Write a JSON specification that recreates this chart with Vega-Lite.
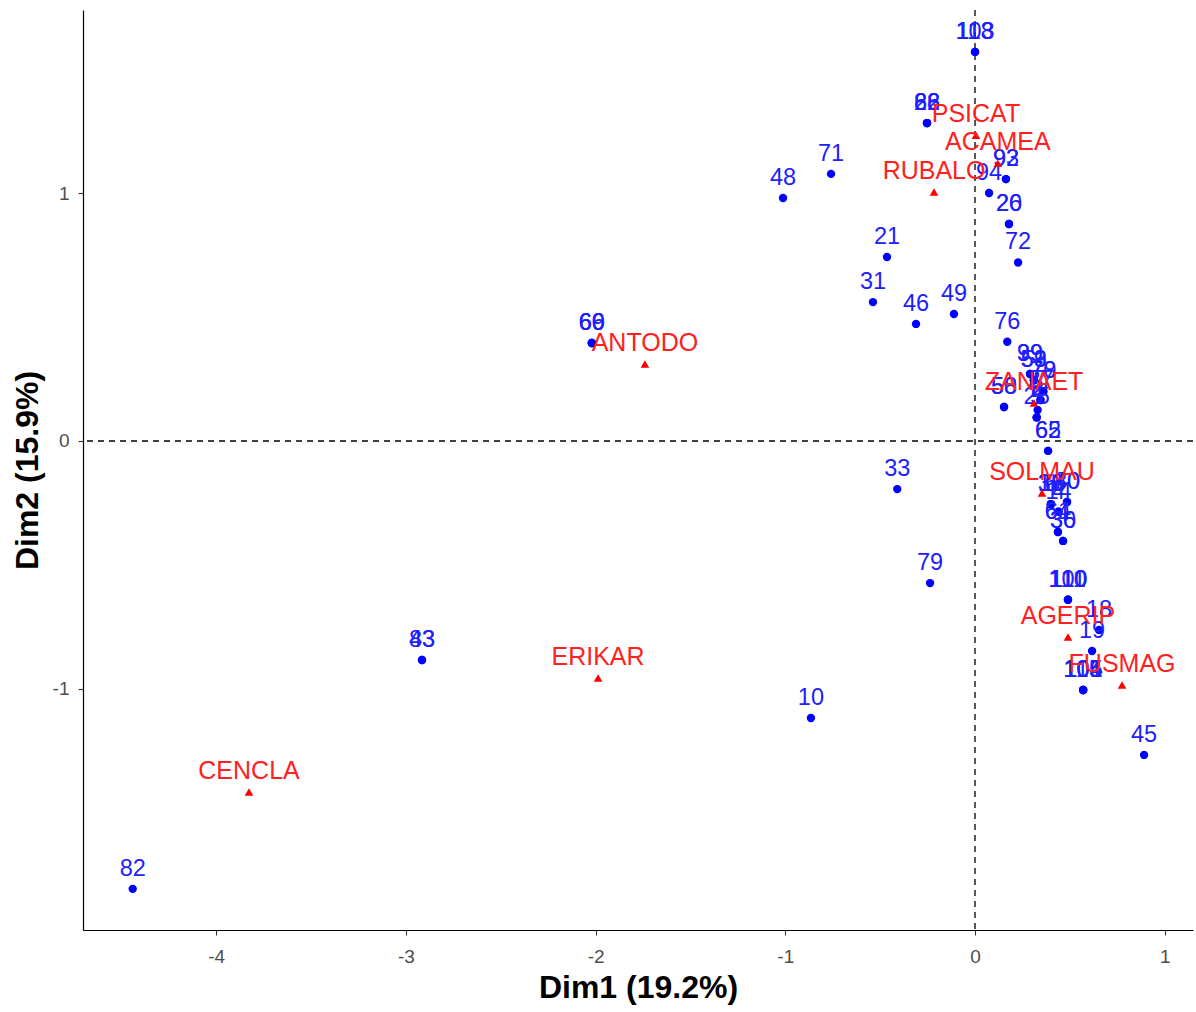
{
  "$schema": "https://vega.github.io/schema/vega-lite/v6.json",
  "width": 1110,
  "height": 920,
  "autosize": {"type": "none"},
  "padding": {"left": 83, "top": 10, "right": 3, "bottom": 82},
  "background": "white",
  "config": {
    "view": {"stroke": null},
    "axis": {
      "grid": false,
      "domainColor": "black",
      "domainWidth": 1.2,
      "tickColor": "#333333",
      "tickSize": 5,
      "tickWidth": 1.1,
      "labelFont": "Liberation Sans",
      "labelFontSize": 19,
      "labelColor": "#4D4D4D",
      "titleFont": "Liberation Sans",
      "titleFontSize": 32,
      "titleFontWeight": "bold",
      "titleColor": "black",
      "labelExpr": "'' + datum.value"
    },
    "axisX": {"labelPadding": 12, "titlePadding": 6},
    "axisY": {"labelPadding": 9, "titlePadding": 8}
  },
  "datasets": {
    "ref": [{"x": 0, "y": 0}],
    "rows": [
      {"x": 0.0, "y": 1.569, "label": "103"},
      {"x": 0.0, "y": 1.569, "label": "113"},
      {"x": 0.0, "y": 1.569, "label": "118"},
      {"x": -0.253, "y": 1.282, "label": "22"},
      {"x": -0.253, "y": 1.282, "label": "88"},
      {"x": -0.253, "y": 1.282, "label": "66"},
      {"x": -0.759, "y": 1.077, "label": "71"},
      {"x": -1.012, "y": 0.98, "label": "48"},
      {"x": -0.464, "y": 0.742, "label": "21"},
      {"x": -0.538, "y": 0.56, "label": "31"},
      {"x": -0.311, "y": 0.472, "label": "46"},
      {"x": -0.111, "y": 0.512, "label": "49"},
      {"x": 0.074, "y": 1.0, "label": "94"},
      {"x": 0.163, "y": 1.056, "label": "92"},
      {"x": 0.163, "y": 1.056, "label": "93"},
      {"x": 0.179, "y": 0.875, "label": "20"},
      {"x": 0.179, "y": 0.875, "label": "26"},
      {"x": 0.227, "y": 0.72, "label": "72"},
      {"x": 0.17, "y": 0.4, "label": "76"},
      {"x": -2.02, "y": 0.395, "label": "60"},
      {"x": -2.02, "y": 0.395, "label": "66"},
      {"x": -2.02, "y": 0.395, "label": "69"},
      {"x": -2.915, "y": -0.883, "label": "83"},
      {"x": -2.915, "y": -0.883, "label": "43"},
      {"x": -4.44, "y": -1.806, "label": "82"},
      {"x": -0.865, "y": -1.117, "label": "10"},
      {"x": -0.237, "y": -0.573, "label": "79"},
      {"x": -0.41, "y": -0.194, "label": "33"},
      {"x": 0.153, "y": 0.137, "label": "50"},
      {"x": 0.153, "y": 0.137, "label": "58"},
      {"x": 0.29, "y": 0.27, "label": "39"},
      {"x": 0.29, "y": 0.27, "label": "99"},
      {"x": 0.31, "y": 0.245, "label": "53"},
      {"x": 0.31, "y": 0.245, "label": "59"},
      {"x": 0.36, "y": 0.2, "label": "70"},
      {"x": 0.36, "y": 0.2, "label": "78"},
      {"x": 0.345, "y": 0.165, "label": "7"},
      {"x": 0.345, "y": 0.165, "label": "27"},
      {"x": 0.33, "y": 0.125, "label": "2"},
      {"x": 0.325, "y": 0.095, "label": "5"},
      {"x": 0.325, "y": 0.095, "label": "25"},
      {"x": 0.385, "y": -0.04, "label": "62"},
      {"x": 0.385, "y": -0.04, "label": "65"},
      {"x": 0.4, "y": -0.255, "label": "6"},
      {"x": 0.4, "y": -0.255, "label": "16"},
      {"x": 0.4, "y": -0.255, "label": "38"},
      {"x": 0.485, "y": -0.246, "label": "40"},
      {"x": 0.485, "y": -0.246, "label": "80"},
      {"x": 0.44, "y": -0.285, "label": "4"},
      {"x": 0.44, "y": -0.285, "label": "14"},
      {"x": 0.437, "y": -0.367, "label": "61"},
      {"x": 0.437, "y": -0.367, "label": "64"},
      {"x": 0.464, "y": -0.403, "label": "30"},
      {"x": 0.464, "y": -0.403, "label": "36"},
      {"x": 0.49, "y": -0.64, "label": "100"},
      {"x": 0.49, "y": -0.64, "label": "110"},
      {"x": 0.49, "y": -0.64, "label": "111"},
      {"x": 0.654, "y": -0.762, "label": "18"},
      {"x": 0.617, "y": -0.847, "label": "19"},
      {"x": 0.57, "y": -1.004, "label": "101"},
      {"x": 0.57, "y": -1.004, "label": "104"},
      {"x": 0.57, "y": -1.004, "label": "105"},
      {"x": 0.57, "y": -1.004, "label": "115"},
      {"x": 0.891, "y": -1.266, "label": "45"}
    ],
    "cols": [
      {"x": 0.005, "y": 1.233, "label": "PSICAT"},
      {"x": 0.12, "y": 1.12, "label": "ACAMEA"},
      {"x": -0.216, "y": 1.004, "label": "RUBALO"},
      {"x": -1.74, "y": 0.31, "label": "ANTODO"},
      {"x": 0.311, "y": 0.153, "label": "ZANAET"},
      {"x": 0.353, "y": -0.21, "label": "SOLMAU"},
      {"x": 0.49, "y": -0.79, "label": "AGERIP"},
      {"x": 0.775, "y": -0.984, "label": "FUSMAG"},
      {"x": -1.987, "y": -0.956, "label": "ERIKAR"},
      {"x": -3.827, "y": -1.415, "label": "CENCLA"}
    ]
  },
  "layer": [
    {
      "data": {"name": "ref"},
      "mark": {"type": "rule", "color": "black", "strokeWidth": 1.3, "strokeDash": [6, 5]},
      "encoding": {
        "x": {"field": "x", "type": "quantitative", "scale": {"domain": [-4.702, 1.149], "nice": false, "zero": false}, "axis": {"title": "Dim1 (19.2%)", "values": [-4, -3, -2, -1, 0, 1]}}
      }
    },
    {
      "data": {"name": "ref"},
      "mark": {"type": "rule", "color": "black", "strokeWidth": 1.3, "strokeDash": [6, 5]},
      "encoding": {
        "y": {"field": "y", "type": "quantitative", "scale": {"domain": [-1.972, 1.738], "nice": false, "zero": false}, "axis": {"title": "Dim2 (15.9%)", "values": [-1, 0, 1]}}
      }
    },
    {
      "data": {"name": "rows"},
      "mark": {"type": "point", "shape": "circle", "filled": true, "color": "blue", "opacity": 1, "size": 70},
      "encoding": {
        "x": {"field": "x", "type": "quantitative", "scale": {"domain": [-4.702, 1.149], "nice": false, "zero": false}, "axis": {"title": "Dim1 (19.2%)", "values": [-4, -3, -2, -1, 0, 1]}},
        "y": {"field": "y", "type": "quantitative", "scale": {"domain": [-1.972, 1.738], "nice": false, "zero": false}, "axis": {"title": "Dim2 (15.9%)", "values": [-1, 0, 1]}}
      }
    },
    {
      "data": {"name": "rows"},
      "mark": {"type": "text", "color": "#2020FF", "font": "Liberation Sans", "fontSize": 23.5, "align": "center", "baseline": "alphabetic", "dy": -13},
      "encoding": {
        "x": {"field": "x", "type": "quantitative"},
        "y": {"field": "y", "type": "quantitative"},
        "text": {"field": "label", "type": "nominal"}
      }
    },
    {
      "data": {"name": "cols"},
      "mark": {"type": "point", "shape": "triangle-up", "filled": true, "color": "red", "opacity": 1, "size": 75},
      "encoding": {
        "x": {"field": "x", "type": "quantitative"},
        "y": {"field": "y", "type": "quantitative"}
      }
    },
    {
      "data": {"name": "cols"},
      "mark": {"type": "text", "color": "#FF2020", "font": "Liberation Sans", "fontSize": 25, "align": "center", "baseline": "alphabetic", "dy": -13},
      "encoding": {
        "x": {"field": "x", "type": "quantitative"},
        "y": {"field": "y", "type": "quantitative"},
        "text": {"field": "label", "type": "nominal"}
      }
    }
  ]
}
